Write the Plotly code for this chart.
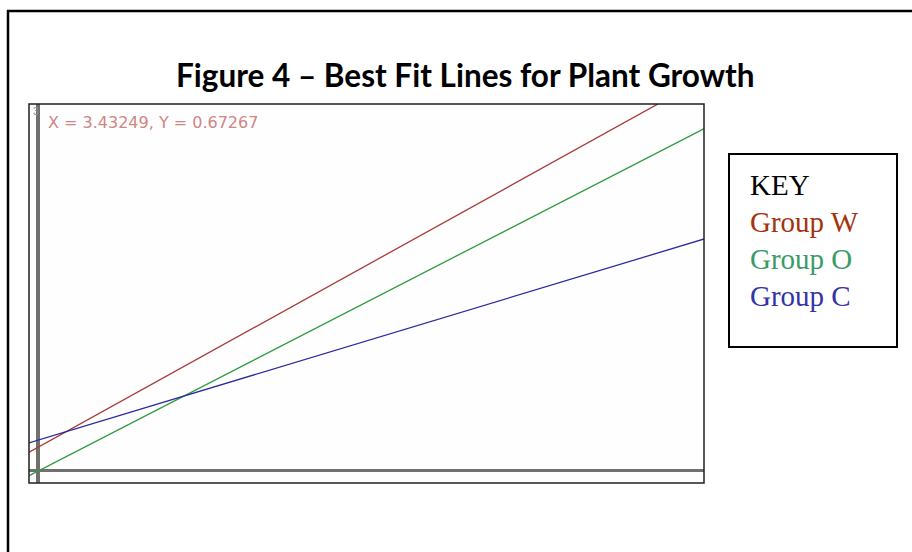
import plotly.graph_objects as go

# ---- data ----
groups = ["Group W", "Group O", "Group C"]
x_vals = [-0.1, 5.2]
w_vals = [0.135, 3.305]
o_vals = [-0.056, 2.886]
c_vals = [0.222, 1.950]
line_colors = ["#a83a3a", "#2e9a3e", "#2a2aa0"]
key_colors = ["#a3330c", "#3a9a68", "#3333a6"]

W, H = 912, 552
L, R, T, B = 29, 704, 104, 483

def px(x):
    return (x - L) / (R - L)

def py(y):
    return (B - y) / (B - T)

fig = go.Figure()
for name, ys, col in zip(groups, [w_vals, o_vals, c_vals], line_colors):
    fig.add_trace(go.Scatter(x=x_vals, y=ys, mode="lines", name=name,
                             line=dict(color=col, width=1.3), showlegend=False,
                             hoverinfo="skip"))

fig.update_layout(
    width=W, height=H,
    margin=dict(l=L, r=W - R, t=T, b=H - B),
    paper_bgcolor="white", plot_bgcolor="#fefefe",
    xaxis=dict(range=[-0.0687, 5.084], showgrid=False, showticklabels=False,
               ticks="", zeroline=True, zerolinecolor="#707070", zerolinewidth=4),
    yaxis=dict(range=[-0.099, 3.025], showgrid=False, showticklabels=False,
               ticks="", zeroline=True, zerolinecolor="#707070", zerolinewidth=3),
)

shapes = [
    # outer frame
    dict(type="line", xref="paper", yref="paper", x0=px(8), x1=px(8), y0=py(10), y1=py(560),
         line=dict(color="black", width=2.5)),
    dict(type="line", xref="paper", yref="paper", x0=px(7), x1=px(920), y0=py(11), y1=py(11),
         line=dict(color="black", width=2.5)),
    # plot box border
    dict(type="rect", xref="paper", yref="paper", x0=0, x1=1, y0=0, y1=1,
         line=dict(color="#202020", width=1.5)),
    # key box
    dict(type="rect", xref="paper", yref="paper", x0=px(729), x1=px(897), y0=py(154), y1=py(347),
         line=dict(color="black", width=2)),
]
fig.update_layout(shapes=shapes)

ann = [
    dict(text="<b>Figure 4 – Best Fit Lines for Plant Growth</b>", x=px(465), y=py(75),
         font=dict(family="Lato", size=31.5, color="black")),
    dict(text="X = 3.43249, Y = 0.67267", x=px(46), y=py(122), xanchor="left",
         font=dict(family="DejaVu Sans", size=16, color="#d08585")),
    dict(text="3", x=px(36), y=py(112), font=dict(family="Liberation Sans", size=10, color="#909090")),
    dict(text="KEY", x=px(748), y=py(185), xanchor="left",
         font=dict(family="Liberation Serif", size=29, color="black")),
]
for i, (name, col) in enumerate(zip(groups, key_colors)):
    ann.append(dict(text=name, x=px(748), y=py(222 + 37 * i), xanchor="left",
                    font=dict(family="Liberation Serif", size=29, color=col)))
for a in ann:
    a.update(xref="paper", yref="paper", showarrow=False, yanchor="middle")
    a.setdefault("xanchor", "center")
fig.update_layout(annotations=ann)

fig.write_html("out.html")
